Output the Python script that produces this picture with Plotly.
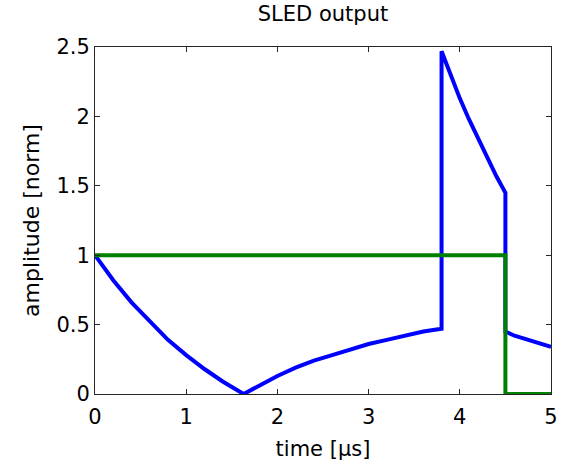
import plotly.graph_objects as go

# SLED output envelope (blue) and klystron input pulse (green), time in microseconds
t_out = [0.0, 0.2, 0.4, 0.6, 0.8, 1.0, 1.2, 1.4, 1.63, 1.8, 2.0, 2.2, 2.4, 2.6,
         2.8, 3.0, 3.2, 3.4, 3.6, 3.8,
         3.8, 3.9, 4.0, 4.1, 4.2, 4.3, 4.4, 4.5,
         4.5, 4.6, 4.7, 4.8, 4.9, 5.0]
a_out = [1.00, 0.82, 0.66, 0.52, 0.39, 0.28, 0.18, 0.09, 0.00, 0.06, 0.13, 0.19,
         0.24, 0.28, 0.32, 0.36, 0.39, 0.42, 0.45, 0.47,
         2.47, 2.30, 2.13, 1.98, 1.84, 1.70, 1.57, 1.45,
         0.45, 0.42, 0.40, 0.38, 0.36, 0.34]

t_in = [0.0, 4.5, 4.5, 5.0]
a_in = [1.0, 1.0, 0.0, 0.0]

x_ticks = [0, 1, 2, 3, 4, 5]
y_ticks = [0, 0.5, 1, 1.5, 2, 2.5]
y_tick_text = ["0", "0.5", "1", "1.5", "2", "2.5"]

FONT = "DejaVu Sans, Arial, sans-serif"

fig = go.Figure()
fig.add_trace(go.Scatter(x=t_out, y=a_out, mode="lines",
                         line=dict(color="#0000ff", width=4), showlegend=False))
fig.add_trace(go.Scatter(x=t_in, y=a_in, mode="lines",
                         line=dict(color="#008000", width=4), showlegend=False))

axis_common = dict(
    showgrid=False, zeroline=False, showline=True, linecolor="#262626",
    linewidth=1, mirror="allticks", ticks="inside", ticklen=5,
    tickcolor="#262626", tickfont=dict(family=FONT, size=21, color="black"),
    automargin=False,
)

fig.update_layout(
    width=567, height=461,
    margin=dict(l=95, r=16, t=47, b=67),
    paper_bgcolor="white", plot_bgcolor="white",
    title=dict(text="SLED output", x=0.5, xref="paper", xanchor="center",
               y=0.971, yanchor="middle",
               font=dict(family=FONT, size=21, color="black")),
    xaxis=dict(range=[0, 5], tickvals=x_ticks, ticklabelstandoff=4,
               title=dict(text="time [μs]", standoff=13,
                          font=dict(family=FONT, size=21, color="black")),
               **axis_common),
    yaxis=dict(range=[0, 2.5], tickvals=y_ticks, ticktext=y_tick_text,
               title=dict(text="amplitude [norm]", standoff=10,
                          font=dict(family=FONT, size=22, color="black")),
               **axis_common),
)

fig.write_html("out.html")
